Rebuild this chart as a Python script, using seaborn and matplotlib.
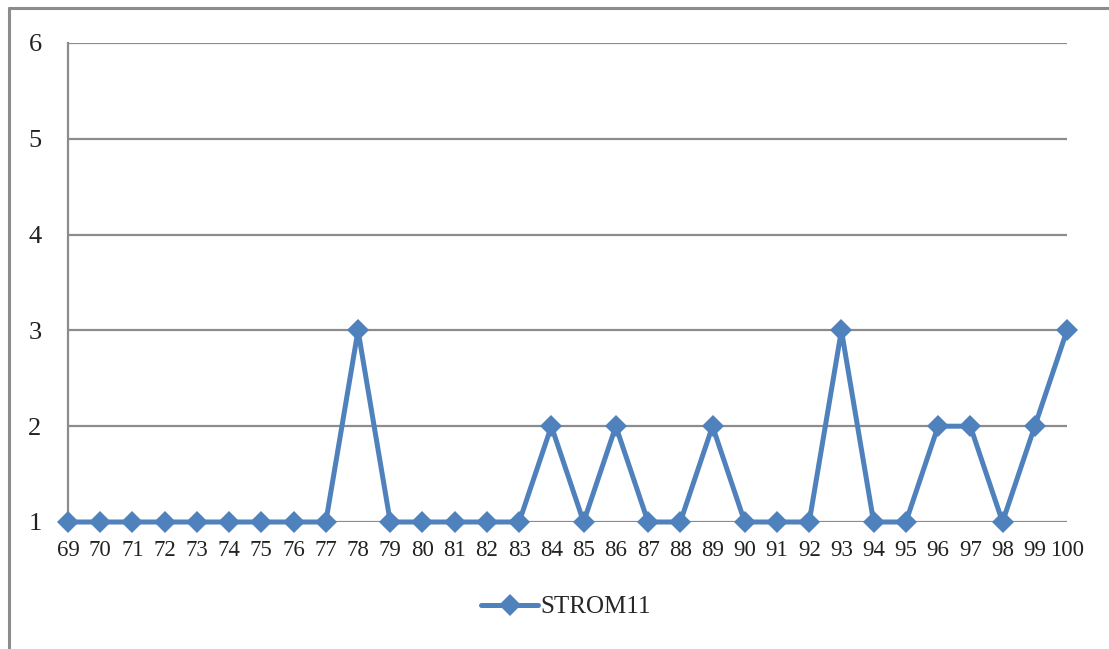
import matplotlib
matplotlib.use("Agg")
import matplotlib.pyplot as plt
import seaborn as sns
import pandas as pd
from matplotlib.lines import Line2D

categories = [str(v) for v in range(69, 101)]
values = [1, 1, 1, 1, 1, 1, 1, 1, 1, 3, 1, 1, 1, 1, 1, 2, 1, 2, 1, 1, 2, 1, 1, 1, 3, 1, 1, 2, 2, 1, 2, 3]
series_name = "STROM11"
y_ticks = [1, 2, 3, 4, 5, 6]

sns.set_theme(style="white")
plt.rcParams['font.family'] = ['Liberation Serif', 'DejaVu Serif']

W, H = 1109, 649
fig = plt.figure(figsize=(W / 100, H / 100), dpi=100)
ax = fig.add_axes([68 / W, 1 - 522 / H, (1067 - 68) / W, (522 - 43) / H])

df = pd.DataFrame({"x": range(len(categories)), "y": values, "s": series_name})
color = "#4F81BD"
sns.lineplot(data=df, x="x", y="y", ax=ax, color=color, linewidth=3.6,
             marker="D", markersize=11, markeredgewidth=0, legend=False)
for ln in ax.lines:
    ln.set_clip_on(False)
    ln.set_zorder(5)

ax.set_xlim(0, len(categories) - 1)
ax.set_ylim(min(y_ticks), max(y_ticks))
ax.set_yticks(y_ticks)
ax.set_yticklabels([str(t) for t in y_ticks], fontsize=19)
ax.set_xticks(range(len(categories)))
ax.set_xticklabels(categories, fontsize=16.5)
ax.tick_params(axis='y', length=0, pad=19, colors='#222222')
ax.tick_params(axis='x', length=0, pad=13, colors='#222222')
ax.set_xlabel("")
ax.set_ylabel("")

for t in y_ticks:
    ax.axhline(t, color="#8c8c8c", linewidth=1.6, zorder=0)

for side in ["top", "right", "bottom"]:
    ax.spines[side].set_visible(False)
ax.spines["left"].set_color("#8c8c8c")
ax.spines["left"].set_linewidth(1.6)

handle = Line2D([], [], color=color, linewidth=3.6, marker="D", markersize=11, markeredgewidth=0)
fig.legend([handle], [series_name], loc="center", bbox_to_anchor=(566 / W, 1 - 607 / H),
           frameon=False, fontsize=18, handlelength=2.3, handletextpad=0.1)

# outer chart frame (left and top edges visible)
fig.add_artist(Line2D([9 / W, 9 / W], [0, 1 - 8 / H], transform=fig.transFigure,
                      color="#8c8c8c", linewidth=2.2))
fig.add_artist(Line2D([9 / W, 1], [1 - 8 / H, 1 - 8 / H], transform=fig.transFigure,
                      color="#8c8c8c", linewidth=2.2))

fig.savefig("out.png", dpi=100)
